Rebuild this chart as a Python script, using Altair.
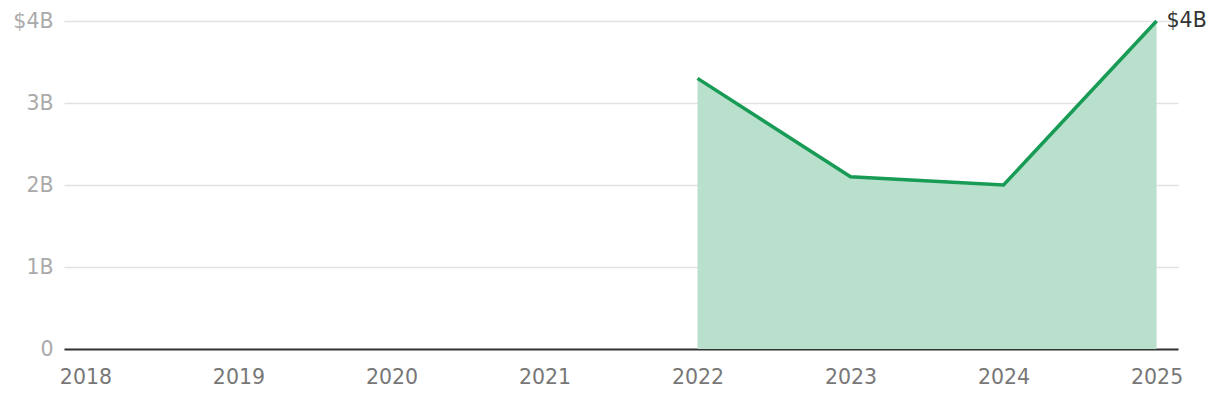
import altair as alt
import pandas as pd

years = ["2018", "2019", "2020", "2021", "2022", "2023", "2024", "2025"]
values = [None, None, None, None, 3.3, 2.1, 2.0, 4.0]
end_label = "$4B"

df = pd.DataFrame({"year": years, "value": values})
df_valid = df.dropna()
df_end = df_valid.tail(1).assign(label=end_label)

FONT = "DejaVu Sans"
FS = 20.5

x = alt.X("year:O", scale=alt.Scale(type="point", domain=years, padding=0.14),
          axis=alt.Axis(title=None, labelAngle=0, labelFontSize=FS, labelColor="#777777",
                        labelFont=FONT, labelPadding=18, ticks=False, domainColor="#333333",
                        domainWidth=2, grid=False))
y = alt.Y("value:Q", scale=alt.Scale(domain=[0, 4], nice=False),
          axis=alt.Axis(title=None, values=[0, 1, 2, 3, 4], ticks=False, domain=False,
                        labelFontSize=FS, labelColor="#aaaaaa", labelFont=FONT, labelPadding=11,
                        gridColor="#e2e2e2", gridWidth=1.5,
                        labelExpr="datum.value == 0 ? '0' : (datum.value == 4 ? '$4B' : datum.value + 'B')"))

area = alt.Chart(df_valid).mark_area(color="#b8e0cc", opacity=1).encode(x=x, y=y)
line = alt.Chart(df_valid).mark_line(color="#179b55", strokeWidth=3.5).encode(x=x, y=y)
text = alt.Chart(df_end).mark_text(align="left", baseline="middle", dx=10, fontSize=FS,
                                   font=FONT, color="#333333").encode(x=x, y=y, text="label:N")

chart = (area + line + text).properties(
    width=1114, height=328,
    autosize=alt.AutoSizeParams(type="none"),
    padding={"left": 56, "top": 13, "right": 34, "bottom": 40},
).configure_view(stroke=None)

chart.save("out.html", embed_options={"renderer": "svg", "actions": False})
